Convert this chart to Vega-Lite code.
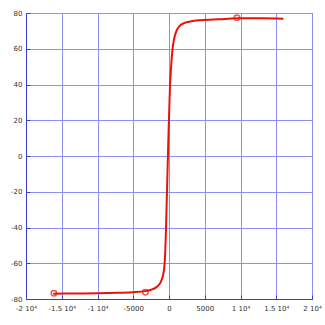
{
  "$schema": "https://vega.github.io/schema/vega-lite/v6.json",
  "autosize": {"type": "none"},
  "width": 286,
  "height": 286,
  "padding": {"left": 26, "top": 13, "right": 13, "bottom": 26},
  "background": "white",
  "config": {
    "view": {"stroke": "#3a3ad8", "strokeWidth": 1},
    "axis": {"labelFont": "DejaVu Sans", "labelFontSize": 7, "labelColor": "#333333", "gridColor": "#8f8ff0", "gridWidth": 1, "gridOpacity": 1, "domainColor": "#3a3ad8", "tickColor": "#3a3ad8", "tickSize": -4, "labelOverlap": false, "labelFlush": false},
    "axisX": {"labelPadding": 9},
    "axisY": {"labelPadding": 8}
  },
  "datasets": {
    "curve": [
      {"i": 1, "h": -16200, "m": -77.0},
      {"i": 2, "h": -13000, "m": -76.9},
      {"i": 3, "h": -10000, "m": -76.8},
      {"i": 4, "h": -7000, "m": -76.5},
      {"i": 5, "h": -5000, "m": -76.2},
      {"i": 6, "h": -3300, "m": -75.6},
      {"i": 7, "h": -2500, "m": -74.8},
      {"i": 8, "h": -1800, "m": -73.5},
      {"i": 9, "h": -1300, "m": -71.5},
      {"i": 10, "h": -1000, "m": -69},
      {"i": 11, "h": -800, "m": -66},
      {"i": 12, "h": -650, "m": -62},
      {"i": 13, "h": -550, "m": -56},
      {"i": 14, "h": -450, "m": -45},
      {"i": 15, "h": -350, "m": -30},
      {"i": 16, "h": -250, "m": -15},
      {"i": 17, "h": -150, "m": 0},
      {"i": 18, "h": -50, "m": 15},
      {"i": 19, "h": 50, "m": 28},
      {"i": 20, "h": 150, "m": 40},
      {"i": 21, "h": 300, "m": 50},
      {"i": 22, "h": 450, "m": 58},
      {"i": 23, "h": 600, "m": 63},
      {"i": 24, "h": 800, "m": 67},
      {"i": 25, "h": 1100, "m": 70.5},
      {"i": 26, "h": 1500, "m": 72.8},
      {"i": 27, "h": 2200, "m": 74.5},
      {"i": 28, "h": 3000, "m": 75.3},
      {"i": 29, "h": 4500, "m": 76.0},
      {"i": 30, "h": 7000, "m": 76.5},
      {"i": 31, "h": 9500, "m": 77.0},
      {"i": 32, "h": 13000, "m": 77.0},
      {"i": 33, "h": 16000, "m": 76.8}
    ],
    "marks": [
      {"h": -16100, "m": -76.8},
      {"h": -3300, "m": -76.2},
      {"h": 9500, "m": 77.3}
    ]
  },
  "encoding": {
    "x": {"field": "h", "type": "quantitative", "scale": {"domain": [-20000, 20000], "nice": false},
      "axis": {"title": null, "values": [-20000, -15000, -10000, -5000, 0, 5000, 10000, 15000, 20000],
        "labelExpr": "datum.value == 0 ? '0' : abs(datum.value) == 5000 ? (datum.value < 0 ? '-5000' : '5000') : (datum.value < 0 ? '-' : '') + abs(datum.value / 10000) + ' 10⁴'"}},
    "y": {"field": "m", "type": "quantitative", "scale": {"domain": [-80, 80], "nice": false},
      "axis": {"title": null, "values": [-80, -60, -40, -20, 0, 20, 40, 60, 80],
        "labelExpr": "(datum.value < 0 ? '-' : '') + abs(datum.value)"}}
  },
  "layer": [
    {
      "data": {"name": "curve"},
      "mark": {"type": "line", "color": "#e8130a", "strokeWidth": 2, "interpolate": "monotone"},
      "encoding": {"order": {"field": "i"}}
    },
    {
      "data": {"name": "marks"},
      "mark": {"type": "point", "shape": "circle", "filled": false, "color": "#e8130a", "strokeWidth": 1.5, "size": 30}
    }
  ]
}
